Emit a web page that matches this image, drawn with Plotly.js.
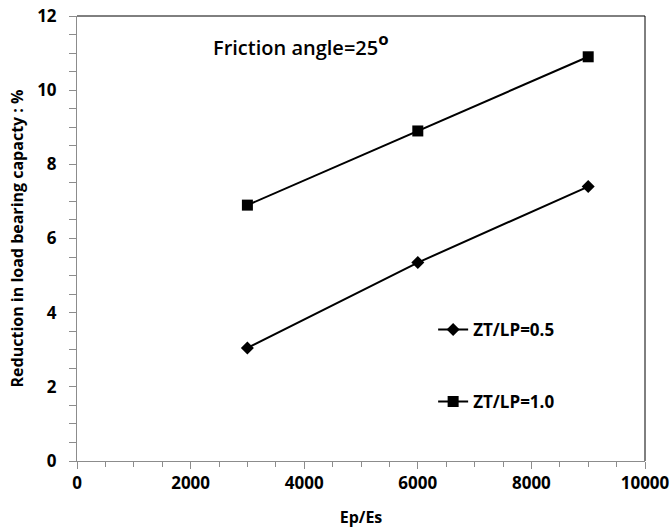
<!DOCTYPE html>
<html>
<head>
<meta charset="utf-8">
<script src="https://cdn.plot.ly/plotly-3.0.1.min.js"></script>
<style>html,body{margin:0;padding:0;background:#fff;}#chart{width:671px;height:528px;}</style>
</head>
<body>
<div id="chart"></div>
<script>
const epEs = [3000, 6000, 9000];
const zt05 = [3.05, 5.35, 7.4];
const zt10 = [6.9, 8.9, 10.9];
const seriesNames = ["ZT/LP=0.5", "ZT/LP=1.0"];
const xTicks = [0, 2000, 4000, 6000, 8000, 10000];
const yTicks = [0, 2, 4, 6, 8, 10, 12];

const FONT = "Open Sans, DejaVu Sans, sans-serif";

const traces = [
  {x: epEs, y: zt05, name: seriesNames[0], type: "scatter", mode: "lines+markers",
   legendgroup: "a",
   line: {color: "#000", width: 2}, marker: {symbol: "diamond", size: 10, color: "#000"}},
  {x: epEs, y: zt10, name: seriesNames[1], type: "scatter", mode: "lines+markers",
   legendgroup: "b",
   line: {color: "#000", width: 2}, marker: {symbol: "square", size: 11, color: "#000"}}
];

const layout = {
  width: 671, height: 528,
  margin: {l: 77, r: 26, t: 16, b: 67},
  paper_bgcolor: "#fff", plot_bgcolor: "#fff",
  font: {family: FONT, color: "#000"},
  showlegend: true,
  legend: {x: 0.627, y: 0.335, xanchor: "left", yanchor: "top",
           bgcolor: "rgba(0,0,0,0)", tracegroupgap: 47,
           font: {family: FONT, size: 17, weight: "bold", color: "#000"}},
  xaxis: {range: [0, 10000], tickvals: xTicks, ticktext: xTicks.map(String),
          showgrid: false, zeroline: false, showline: true, linecolor: "#8c8c8c", linewidth: 1,
          ticks: "outside", ticklen: 7, tickcolor: "#8c8c8c",
          minor: {dtick: 500, ticks: "outside", ticklen: 5, tickcolor: "#8c8c8c"},
          tickfont: {family: FONT, size: 17, weight: "bold"},
          title: {text: "Ep/Es", font: {family: FONT, size: 16, weight: "bold"}, standoff: 20}},
  yaxis: {range: [0, 12], tickvals: yTicks, ticktext: yTicks.map(String),
          showgrid: false, zeroline: false, showline: true, linecolor: "#8c8c8c", linewidth: 1,
          ticks: "outside", ticklen: 7, tickcolor: "#8c8c8c", ticklabelstandoff: 9,
          minor: {dtick: 0.5, ticks: "outside", ticklen: 7, tickcolor: "#8c8c8c"},
          tickfont: {family: FONT, size: 17, weight: "bold"},
          title: {text: "Reduction in load bearing capacty : %", font: {family: FONT, size: 16, weight: "bold"}, standoff: 9}},
  shapes: [
    {type: "line", xref: "paper", yref: "paper", x0: 0, x1: 1, y0: 1, y1: 1, line: {color: "#000", width: 1}},
    {type: "line", xref: "paper", yref: "paper", x0: 1, x1: 1, y0: 0, y1: 1, line: {color: "#000", width: 1}}
  ],
  annotations: [
    {xref: "x", yref: "y", x: 3950, y: 11.25, text: "Friction angle=25<span style='font-size:24px;font-weight:bold'><sup>o</sup></span>",
     showarrow: false, font: {family: FONT, size: 20, weight: 600, color: "#000"}}
  ]
};

Plotly.newPlot("chart", traces, layout, {displayModeBar: false, staticPlot: true});
</script>
</body>
</html>
